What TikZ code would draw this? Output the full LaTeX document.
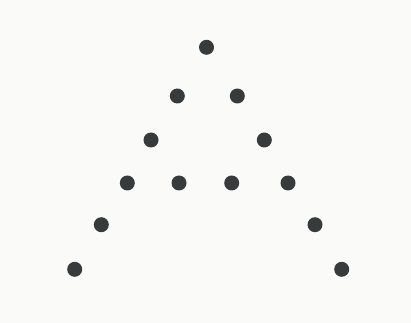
\documentclass[tikz,border=0pt]{standalone}
\usepackage{xcolor}

\definecolor{dotgray}{HTML}{383B3B}
\definecolor{paper}{HTML}{FAFAF8}

\begin{document}
\begin{tikzpicture}[
  x=0.02cm, y=-0.02cm,  dot/.style={circle,fill=dotgray,draw=none,inner sep=0pt,minimum size=0.3cm}
]
  \fill[paper] (0,0) rectangle (411,323);
  \useasboundingbox (0,0) rectangle (411,323);
  \node[dot] (d0) at (206.5,47.3) {};
  \node[dot] (d1) at (177.3,96.0) {};
  \node[dot] (d2) at (237.3,96.0) {};
  \node[dot] (d3) at (151.0,140.0) {};
  \node[dot] (d4) at (264.3,140.0) {};
  \node[dot] (d5) at (127.3,183.0) {};
  \node[dot] (d6) at (179.0,183.0) {};
  \node[dot] (d7) at (231.7,183.0) {};
  \node[dot] (d8) at (288.0,183.0) {};
  \node[dot] (d9) at (101.3,224.7) {};
  \node[dot] (d10) at (315.0,224.7) {};
  \node[dot] (d11) at (74.7,269.3) {};
  \node[dot] (d12) at (341.7,269.3) {};
\end{tikzpicture}
\end{document}
